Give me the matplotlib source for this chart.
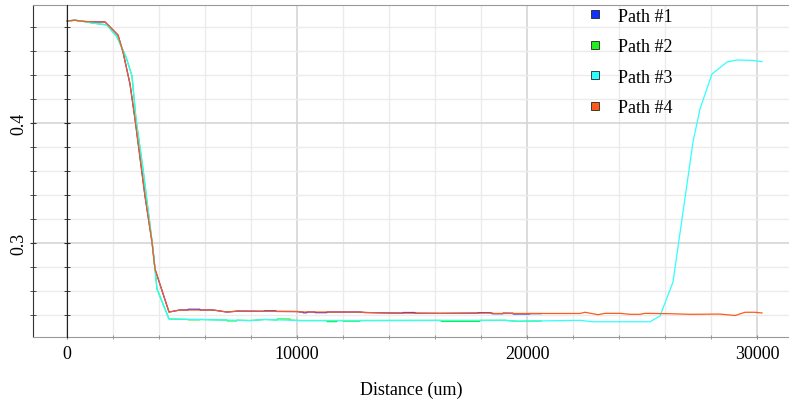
import numpy as np
import matplotlib
matplotlib.use('Agg')
import matplotlib.pyplot as plt
from matplotlib.lines import Line2D
from matplotlib.ticker import MultipleLocator

plt.rcParams['font.family'] = ['Liberation Serif', 'DejaVu Serif']

# Path #4 (orange) - full scan
path4_x = [0, 348, 739, 1174, 1652, 2217, 2435, 2739, 2957, 3391, 3696, 3826, 4435, 4913,
           6348, 6957, 7435, 10043, 10130, 12739, 12957, 14043, 16217, 18391, 18609, 22304,
           22522, 23087, 23391, 24043, 24478, 24913, 25130, 26217, 27087, 28391, 29043,
           29478, 29913, 30217]
path4_y = [0.4850, 0.4856, 0.4846, 0.4842, 0.4842, 0.4733, 0.4592, 0.4325, 0.4033, 0.3392,
           0.3008, 0.2783, 0.2425, 0.2442, 0.2442, 0.2425, 0.2433, 0.2429, 0.2425, 0.2425,
           0.2421, 0.2417, 0.2414, 0.2417, 0.2413, 0.2413, 0.2423, 0.2403, 0.2414, 0.2414,
           0.2406, 0.2406, 0.2414, 0.2411, 0.2406, 0.2408, 0.2396, 0.2423, 0.2423, 0.2417]

# Path #3 (cyan) - full scan, rises at the end
path3_x = [0, 348, 739, 1087, 1739, 2174, 2565, 2826, 3000, 3304, 3739, 3913, 4435, 5783,
           6957, 7957, 8609, 10130, 19043, 19565, 22304, 22826, 25348, 25783, 26348, 26783,
           27217, 27522, 28043, 28696, 29130, 29826, 30217]
path3_y = [0.4850, 0.4856, 0.4846, 0.4833, 0.4817, 0.4717, 0.4550, 0.4392, 0.4033, 0.3617,
           0.2950, 0.2617, 0.2367, 0.2363, 0.2358, 0.2354, 0.2363, 0.2354, 0.2356, 0.2348,
           0.2356, 0.2344, 0.2344, 0.2392, 0.2675, 0.3258, 0.3842, 0.4117, 0.4408, 0.4508,
           0.4525, 0.4521, 0.4511]

# Path #1 (blue) - follows path #4, differs only in short stretches
path1_x = [0, 348, 739, 1174, 1652, 2217, 2435, 2739, 2957, 3391, 3696, 3826, 4435, 4913,
           5261, 5270, 5775, 5783, 6348, 6957, 7435, 8565, 8574, 9078, 9087, 10043, 10130,
           10261, 10270, 10426, 10435, 10783, 10792, 11295, 11304, 12739, 12957, 14043,
           14609, 14618, 15121, 15130, 16217, 17870, 17879, 18382, 18391, 18478, 18487,
           18948, 18957, 19391, 19400, 20121, 20130, 20609]
path1_y = [0.4850, 0.4856, 0.4846, 0.4842, 0.4842, 0.4733, 0.4592, 0.4325, 0.4033, 0.3392,
           0.3008, 0.2783, 0.2425, 0.2442, 0.2442, 0.2448, 0.2448, 0.2442, 0.2442, 0.2425,
           0.2433, 0.2431, 0.2435, 0.2435, 0.2430, 0.2429, 0.2425, 0.2425, 0.2419, 0.2419,
           0.2425, 0.2425, 0.2420, 0.2420, 0.2425, 0.2425, 0.2421, 0.2417, 0.2416, 0.2421,
           0.2421, 0.2415, 0.2414, 0.2416, 0.2420, 0.2420, 0.2417, 0.2416, 0.2411, 0.2411,
           0.2416, 0.2415, 0.2409, 0.2409, 0.2412, 0.2412]

# Path #2 (green) - follows path #3, differs only in short stretches
path2_x = [0, 348, 739, 1087, 1739, 2174, 2565, 2826, 3000, 3304, 3739, 3913, 4435, 5261,
           5270, 5775, 5783, 6957, 6966, 7382, 7391, 7957, 8609, 9130, 9139, 9687, 9696,
           10130, 11304, 11313, 11730, 11739, 12000, 12009, 12730, 12739, 16261, 16270,
           17948, 17957, 19043, 19565, 20130, 20139, 20609]
path2_y = [0.4850, 0.4856, 0.4846, 0.4833, 0.4817, 0.4717, 0.4550, 0.4392, 0.4033, 0.3617,
           0.2950, 0.2617, 0.2367, 0.2363, 0.2360, 0.2360, 0.2363, 0.2358, 0.2351, 0.2351,
           0.2357, 0.2354, 0.2363, 0.2359, 0.2367, 0.2367, 0.2358, 0.2354, 0.2354, 0.2345,
           0.2345, 0.2354, 0.2354, 0.2349, 0.2349, 0.2354, 0.2355, 0.2347, 0.2347, 0.2355,
           0.2356, 0.2348, 0.2349, 0.2350, 0.2350]

labels = ['Path #1', 'Path #2', 'Path #3', 'Path #4']
colors = ['#1030ff', '#20f020', '#30ffff', '#ff5a1a']

fig = plt.figure(figsize=(7.89, 4.02), dpi=100)
ax = fig.add_axes([33/789, 1-338/402, 1-33/789, 332/402])

ax.plot(path1_x, path1_y, color=colors[0], lw=0.9)
ax.plot(path2_x, path2_y, color=colors[1], lw=0.9)
ax.plot(path3_x, path3_y, color=colors[2], lw=0.9)
ax.plot(path4_x, path4_y, color=colors[3], lw=0.9)

ax.set_xlim(-1478, 31391)
ax.set_ylim(0.2217, 0.4983)

ax.xaxis.set_major_locator(MultipleLocator(10000))
ax.xaxis.set_minor_locator(MultipleLocator(2000))
ax.yaxis.set_major_locator(MultipleLocator(0.1))
ax.yaxis.set_minor_locator(MultipleLocator(0.02))
ax.grid(which='minor', color='#ebebeb', lw=1.0)
ax.grid(which='major', color='#d6d6d6', lw=1.2)
ax.set_axisbelow(True)

for s in ['top', 'bottom']:
    ax.spines[s].set_color('#999999')
    ax.spines[s].set_linestyle((0, (1, 1)))
ax.spines['right'].set_visible(False)
ax.spines['left'].set_color('#333333')

ax.tick_params(axis='y', which='both', direction='inout', length=4, color='#333333',
               labelsize=13, pad=2)
ax.tick_params(axis='x', which='both', direction='inout', length=3, color='#888888',
               labelsize=13, pad=4)
plt.setp(ax.get_yticklabels(), rotation=90, va='center')

# second axis line at x = 0 (overlay axes sharing y)
ax0 = fig.add_axes(ax.get_position(), sharey=ax)
ax0.set_xlim(ax.get_xlim())
ax0.patch.set_visible(False)
for s in ['top', 'bottom', 'right']:
    ax0.spines[s].set_visible(False)
ax0.spines['left'].set_position(('data', 0))
ax0.spines['left'].set_color('#222222')
ax0.xaxis.set_visible(False)
ax0.tick_params(axis='y', which='both', direction='inout', length=4, color='#222222',
                labelleft=False)

ax.set_xlabel('Distance (um)', fontsize=13, labelpad=14)

handles = [Line2D([], [], marker='s', linestyle='none', markersize=6,
                  markerfacecolor=c, markeredgecolor='#222222', markeredgewidth=0.6)
           for c in colors]
ax.legend(handles, labels, loc='upper left', bbox_to_anchor=(0.698, 1.041), frameon=False,
          fontsize=13, labelspacing=0.75, handletextpad=0.3)

fig.savefig('out.png', dpi=100)
